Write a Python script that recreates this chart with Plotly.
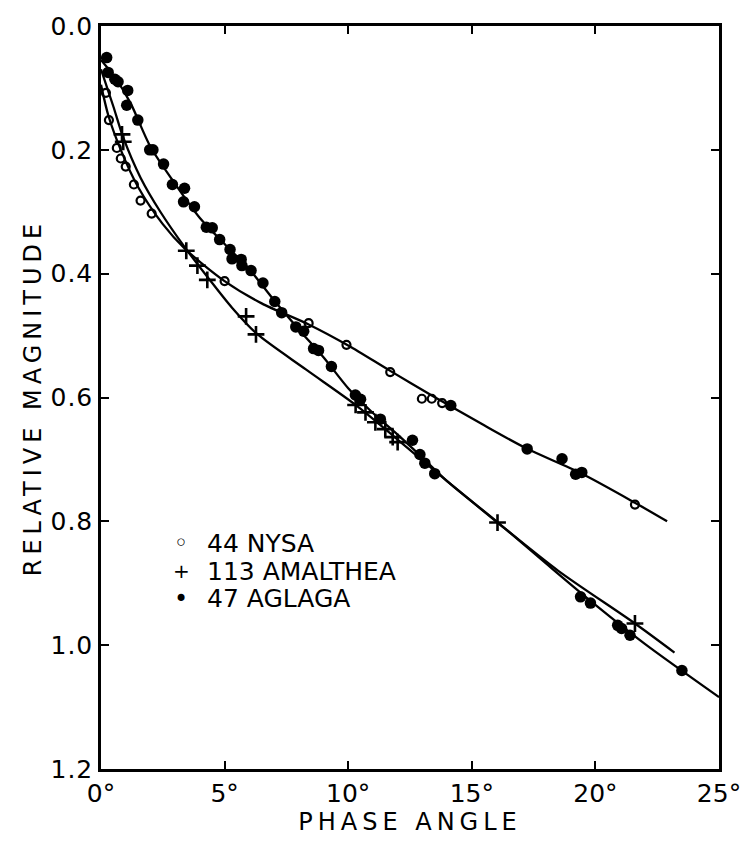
import plotly.graph_objects as go

# ---- observations (phase angle in degrees, relative magnitude) ----
nysa_phase = [0.2, 0.32, 0.64, 0.8, 1.0, 1.33, 1.6, 2.05, 5.0, 8.4, 9.93, 11.7, 12.98, 13.38, 13.8, 21.6]
nysa_mag = [0.108, 0.152, 0.197, 0.214, 0.227, 0.256, 0.282, 0.303, 0.412, 0.48, 0.515, 0.559, 0.602, 0.602, 0.609, 0.773]

# filled-dot observations lying on the Nysa curve
nysa_dot_phase = [14.15, 17.24, 18.65, 19.2, 19.45]
nysa_dot_mag = [0.613, 0.683, 0.699, 0.724, 0.721]

amalthea_phase = [0.85, 0.9, 3.45, 3.9, 4.3, 5.87, 6.27, 10.3, 10.7, 11.1, 11.5, 11.8, 12.0, 16.04, 21.6]
amalthea_mag = [0.175, 0.187, 0.363, 0.387, 0.41, 0.469, 0.498, 0.612, 0.624, 0.64, 0.651, 0.664, 0.672, 0.802, 0.965]

aglaga_phase = [0.23, 0.29, 0.56, 0.69, 1.08, 1.04, 1.49, 1.97, 2.1, 2.53, 2.89, 3.38, 3.34, 3.78,
                4.26, 4.5, 4.8, 5.22, 5.3, 5.67, 5.7, 6.07, 6.55, 7.03, 7.31, 7.88, 8.2, 8.6, 8.8,
                9.32, 10.29, 10.5, 11.3, 12.6, 12.9, 13.1, 13.5, 19.4, 19.8, 20.9, 21.06, 21.4, 23.5]
aglaga_mag = [0.051, 0.075, 0.086, 0.09, 0.104, 0.128, 0.152, 0.2, 0.2, 0.223, 0.256, 0.262, 0.284, 0.292,
              0.325, 0.326, 0.345, 0.361, 0.376, 0.377, 0.387, 0.395, 0.415, 0.445, 0.463, 0.486, 0.493, 0.521, 0.524,
              0.55, 0.596, 0.603, 0.635, 0.669, 0.692, 0.706, 0.723, 0.922, 0.932, 0.968, 0.973, 0.984, 1.041]

# ---- hand-fitted phase curves ----
nysa_fit_phase = [0, 0.3, 0.8, 1.5, 2.5, 3.4, 5.0, 6.5, 8.4, 10.0, 11.7, 13.4, 15.5, 17.2, 19.4, 21.6, 22.9]
nysa_fit_mag = [0.095, 0.145, 0.2, 0.26, 0.32, 0.36, 0.412, 0.448, 0.482, 0.516, 0.557, 0.597, 0.645, 0.682, 0.722, 0.77, 0.80]

amalthea_fit_phase = [0, 0.5, 0.9, 1.6, 2.4, 3.4, 4.3, 5.3, 6.3, 8.3, 10.3, 12.0, 14.0, 16.04, 18.5, 21.6, 23.2]
amalthea_fit_mag = [0.07, 0.13, 0.18, 0.245, 0.30, 0.358, 0.405, 0.455, 0.497, 0.555, 0.612, 0.668, 0.735, 0.802, 0.88, 0.965, 1.012]

aglaga_fit_phase = [0, 0.6, 1.2, 2.0, 3.0, 4.0, 5.0, 6.0, 7.0, 8.0, 9.0, 10.0, 11.0, 12.0, 13.0, 14.0, 16.0, 18.0, 20.0, 22.0, 25.0]
aglaga_fit_mag = [0.055, 0.085, 0.125, 0.195, 0.255, 0.31, 0.352, 0.393, 0.443, 0.49, 0.535, 0.585, 0.625, 0.66, 0.697, 0.735, 0.80, 0.868, 0.935, 0.998, 1.084]

# ---- axes labelling ----
x_ticks = [0, 5, 10, 15, 20, 25]
x_tick_text = ["0°", "5°", "10°", "15°", "20°", "25°"]
y_ticks = [0.0, 0.2, 0.4, 0.6, 0.8, 1.0, 1.2]
y_tick_text = ["0.0", "0.2", "0.4", "0.6", "0.8", "1.0", "1.2"]

key_symbols = ["◦", "+", "•"]
key_labels = ["44 NYSA", "113 AMALTHEA", "47 AGLAGA"]

FONT = "DejaVu Sans"
INK = "black"

fig = go.Figure()

for px, py in [(nysa_fit_phase, nysa_fit_mag),
               (amalthea_fit_phase, amalthea_fit_mag),
               (aglaga_fit_phase, aglaga_fit_mag)]:
    fig.add_trace(go.Scatter(x=px, y=py, mode="lines",
                             line=dict(color=INK, width=2.3, shape="spline", smoothing=0.8),
                             hoverinfo="skip", showlegend=False))

fig.add_trace(go.Scatter(x=nysa_phase, y=nysa_mag, mode="markers", name="44 NYSA",
                         marker=dict(symbol="circle-open", size=8, color=INK, line=dict(width=2.2)),
                         showlegend=False))
fig.add_trace(go.Scatter(x=amalthea_phase, y=amalthea_mag, mode="markers", name="113 AMALTHEA",
                         marker=dict(symbol="cross-thin", size=12, color=INK, line=dict(width=2.6, color=INK)),
                         showlegend=False))
fig.add_trace(go.Scatter(x=aglaga_phase, y=aglaga_mag, mode="markers", name="47 AGLAGA",
                         marker=dict(symbol="circle", size=11.5, color=INK),
                         showlegend=False))
fig.add_trace(go.Scatter(x=nysa_dot_phase, y=nysa_dot_mag, mode="markers", name="44 NYSA",
                         marker=dict(symbol="circle", size=11.5, color=INK),
                         showlegend=False))

# key, written as text in the lower-left part of the frame
key_y = [0.304, 0.266, 0.229]
key_sizes = [24, 20, 24]
for sym, lab, ky, ks in zip(key_symbols, key_labels, key_y, key_sizes):
    fig.add_annotation(x=0.130, y=ky, xref="paper", yref="paper", text=sym, showarrow=False,
                       xanchor="center", yanchor="middle",
                       font=dict(family=FONT, size=ks, color=INK))
    fig.add_annotation(x=0.168, y=ky, xref="paper", yref="paper", text=lab, showarrow=False,
                       xanchor="left", yanchor="middle",
                       font=dict(family=FONT, size=25, color=INK))

axis_common = dict(showline=True, linecolor=INK, linewidth=2.5, mirror="ticks",
                   ticks="inside", ticklen=8, tickwidth=2, tickcolor=INK,
                   showgrid=False, zeroline=False,
                   tickfont=dict(family=FONT, size=25, color=INK))

fig.update_xaxes(range=[0, 25], tickvals=x_ticks, ticktext=x_tick_text,
                 title=dict(text="PHASE ANGLE", font=dict(family=FONT, size=24, color=INK), standoff=5),
                 **axis_common)
fig.update_yaxes(range=[1.2, 0], tickvals=y_ticks, ticktext=y_tick_text,
                 title=dict(text="RELATIVE MAGNITUDE", font=dict(family=FONT, size=24, color=INK), standoff=6),
                 **axis_common)

fig.update_layout(width=753, height=842,
                  margin=dict(l=101, r=30, t=21, b=64),
                  paper_bgcolor="white", plot_bgcolor="white",
                  showlegend=False)

# widen the lettering of the axis titles
spacing_js = """
document.querySelectorAll('.g-xtitle text, .g-ytitle text').forEach(function(t){
  t.setAttribute('letter-spacing', '5px');
});
document.querySelectorAll('.ytick text').forEach(function(t){
  t.setAttribute('letter-spacing', '1px');
});
"""
fig.write_html("out.html", post_script=spacing_js)
